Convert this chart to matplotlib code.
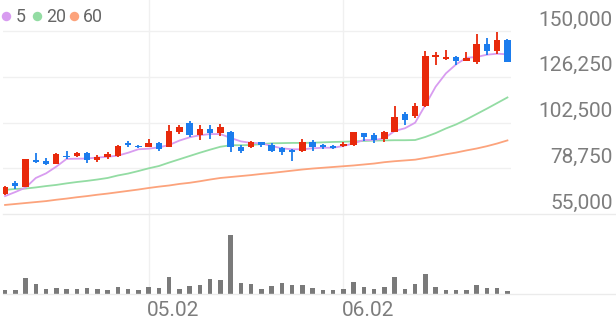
import matplotlib
matplotlib.use("Agg")
import matplotlib.pyplot as plt
from matplotlib.lines import Line2D
from matplotlib.transforms import blended_transform_factory, offset_copy

plt.rcParams['font.family'] = ['Roboto', 'DejaVu Sans']

# daily candles (KRW)
opens = [65400, 71200, 69200, 83000, 82500, 81000, 85300, 85100, 86800, 83000,
         84700, 85300, 91700, 90300, 89900, 91700, 89900, 97600, 102100, 95900,
         99300, 97200, 97600, 89900, 89600, 92200, 90800, 89100, 88200, 87600,
         92500, 90700, 90300, 90300, 90700, 96900, 95900, 93900, 97700, 107100,
         106000, 111100, 136700, 135500, 136400, 134400, 133800, 143100, 139600, 145300]
closes = [69200, 69500, 83400, 81800, 81000, 86000, 84400, 86500, 83000, 84400,
          86000, 90300, 90800, 89600, 91700, 88600, 98200, 100300, 95900, 99300,
          96900, 100000, 89600, 87600, 92400, 90800, 87900, 87000, 87300, 92500,
          89900, 89600, 89300, 91300, 97400, 95100, 93400, 97400, 105500, 103600,
          111100, 137200, 137500, 136400, 134400, 135800, 143100, 139600, 145300, 133800]
highs = [69500, 71900, 83800, 86800, 83900, 86500, 87900, 87200, 87200, 85500,
         87000, 90600, 92900, 91000, 94100, 92400, 101000, 101000, 103100, 101400,
         101400, 101700, 98200, 91000, 92900, 92600, 91700, 89900, 88500, 93900,
         93200, 91300, 91000, 92400, 97800, 97300, 96900, 98100, 111100, 107700,
         112600, 139600, 138900, 140000, 136800, 138900, 148300, 146200, 149600, 145600]
lows = [65000, 67800, 68800, 81500, 80300, 80700, 83400, 84600, 81300, 82200,
        83400, 84800, 89900, 89300, 89800, 87900, 89600, 96500, 95100, 93400,
        94100, 95500, 87200, 86500, 89300, 89600, 87200, 85500, 82500, 87200,
        87900, 88600, 88600, 89900, 90300, 93000, 92000, 92500, 97400, 101200,
        105000, 110800, 132400, 134900, 132400, 134200, 132700, 137500, 137900, 133700]

volumes = [40000, 40000, 157000, 97000, 47000, 60000, 50000, 47000, 53000, 47000,
           33000, 70000, 50000, 33000, 67000, 60000, 167000, 50000, 73000, 83000,
           150000, 140000, 587000, 107000, 100000, 50000, 77000, 103000, 90000, 90000,
           60000, 40000, 35000, 50000, 115000, 65000, 45000, 70000, 165000, 50000,
           100000, 200000, 65000, 40000, 40000, 40000, 85000, 60000, 60000, 30000]

# moving averages
ma5 = [64300, 66400, 68700, 73700, 76100, 79600, 83600, 83700, 83800, 84300,
       84700, 85300, 86800, 88600, 88900, 89600, 90800, 93100, 94800, 95900,
       96500, 96500, 94500, 92700, 91900, 91700, 90300, 89100, 88600, 88600,
       89100, 89400, 89400, 90300, 91700, 93400, 93400, 94300, 98100, 99500,
       102400, 111600, 121100, 128000, 132700, 136100, 136500, 137700, 138200, 137900]
ma20 = [67500, 68000, 68200, 68800, 69500, 70100, 70900, 71600, 72200, 72900,
        73700, 75000, 76000, 77300, 78700, 79900, 81700, 83400, 85100, 86800,
        88400, 89900, 90700, 90700, 90800, 91300, 91700, 91800, 91900, 91900,
        92000, 92200, 92400, 92500, 92700, 92900, 93100, 93200, 93300, 93300,
        93400, 95000, 97000, 99400, 101500, 104100, 106900, 109700, 112600, 115500]
ma60 = [59700, 60200, 60700, 61200, 61700, 62400, 63000, 63700, 64300, 65000,
        65600, 66300, 67000, 67700, 68500, 69200, 69800, 70600, 71200, 72000,
        72900, 73700, 74200, 74700, 75200, 75800, 76300, 76900, 77500, 78100,
        78600, 79000, 79400, 79800, 80200, 80700, 81200, 81900, 82400, 82800,
        83200, 84100, 85000, 86000, 86900, 88000, 89000, 90200, 91600, 93200]

yticks = [55000, 78750, 102500, 126250, 150000]
date_labels = {14: "05.02", 33: "06.02"}

W, H = 616, 321
fig = plt.figure(figsize=(W / 100, H / 100), dpi=100)


def fx(px):
    return px / W


def fy(py):
    return 1 - py / H


ax = fig.add_axes([fx(3), fy(214), fx(511) - fx(3), 214 / H])
axv = fig.add_axes([fx(3), fy(293.5), fx(511) - fx(3), (293.5 - 214) / H])

x = list(range(len(opens)))
for a in (ax, axv):
    a.set_xlim(-0.2, 49.35)
    for s in a.spines.values():
        s.set_visible(False)
    a.set_xticks([])
    a.set_yticks([])
    a.patch.set_alpha(0)
    for k in date_labels:
        a.axvline(k, color='#f0f0f0', lw=1, zorder=0)

ax.set_ylim(55000, 166093)
axv.set_ylim(0, 795000)

for t in yticks[1:]:
    ax.axhline(t, color='#f0f0f0', lw=1, zorder=0)

# bottom lines across the full width
fig.add_artist(Line2D([fx(3), 1], [fy(214), fy(214)], color='#ebebeb', lw=1))
fig.add_artist(Line2D([fx(3), 1], [fy(293.8), fy(293.8)], color='#ebebeb', lw=1))

# moving averages
ax.plot(x, ma60, color='#fca37c', lw=1.3, zorder=2)
ax.plot(x, ma20, color='#93dca3', lw=1.3, zorder=2)
ax.plot(x, ma5, color='#d89cf0', lw=1.3, zorder=2)

# candles
red, blue = '#e8290b', '#1b7ced'
colors = [red if c >= o else blue for o, c in zip(opens, closes)]
bottoms = [min(o, c) for o, c in zip(opens, closes)]
heights = [max(abs(c - o), 600) for o, c in zip(opens, closes)]
ax.vlines(x, lows, highs, colors=colors, lw=1.3, zorder=3)
ax.bar(x, heights, bottom=bottoms, width=0.62, color=colors, zorder=4)

# volume
axv.bar(x, volumes, width=0.45, color='#7a7a7a')

# price labels on the right
tr = offset_copy(blended_transform_factory(fig.transFigure, ax.transData),
                 fig=fig, y=5.5, units='dots')
for t in yticks:
    ax.text(fx(612.5), t, f"{t:,}", transform=tr, ha='right', va='baseline',
            fontsize=15, color='#7d7d7d', clip_on=False)

# date labels
trd = offset_copy(blended_transform_factory(axv.transData, axv.transAxes),
                  fig=fig, x=-1.5, y=-22.5, units='dots')
for k, lab in date_labels.items():
    axv.text(k, 0, lab, transform=trd, ha='left', va='baseline',
             fontsize=15, color='#7d7d7d', clip_on=False)

# legend
legend = [("5", '#d89cf0', 6.3, 15.5), ("20", '#93dca3', 37.3, 46), ("60", '#fca37c', 74.2, 82.5)]
for lab, col, cx, tx in legend:
    fig.add_artist(Line2D([fx(cx)], [fy(16.2)], marker='o', markersize=6.8,
                          color=col, markeredgewidth=0))
    fig.text(fx(tx), fy(22), lab, fontsize=12.8, color='#666666', va='baseline')

fig.savefig("out.png", dpi=100)
